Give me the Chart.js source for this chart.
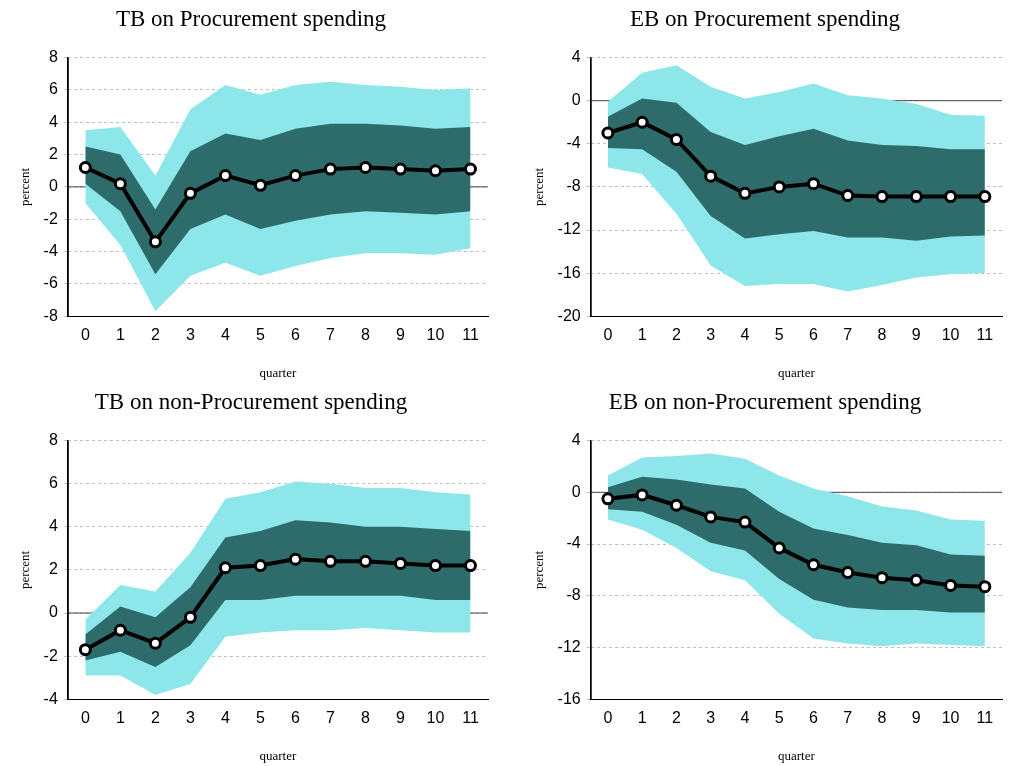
<!DOCTYPE html>
<html>
<head>
<meta charset="utf-8">
<script src="https://cdn.jsdelivr.net/npm/chart.js@4"></script>
<style>
  body { margin: 0; background: #fff; }
  .panel { position: absolute; width: 514px; height: 383px; }
</style>
</head>
<body>
<div class="panel" style="left:0;top:0"><canvas id="c1"></canvas></div>
<div class="panel" style="left:514px;top:0"><canvas id="c2"></canvas></div>
<div class="panel" style="left:0;top:383px"><canvas id="c3"></canvas></div>
<div class="panel" style="left:514px;top:383px"><canvas id="c4"></canvas></div>
<script>
const quarters = ["0","1","2","3","4","5","6","7","8","9","10","11"];

// TB on Procurement spending
const tbProcMedian = [1.2,0.2,-3.4,-0.4,0.7,0.1,0.7,1.1,1.2,1.1,1.0,1.1];
const tbProcInnerHi = [2.5,2.0,-1.4,2.2,3.3,2.9,3.6,3.9,3.9,3.8,3.6,3.7];
const tbProcInnerLo = [0.2,-1.5,-5.4,-2.6,-1.7,-2.6,-2.1,-1.7,-1.5,-1.6,-1.7,-1.5];
const tbProcOuterHi = [3.5,3.7,0.7,4.8,6.3,5.7,6.3,6.5,6.3,6.2,6.0,6.1];
const tbProcOuterLo = [-1.0,-3.6,-7.7,-5.5,-4.7,-5.5,-4.9,-4.4,-4.1,-4.1,-4.2,-3.8];

// EB on Procurement spending
const ebProcMedian = [-3,-2,-3.6,-7,-8.6,-8,-7.7,-8.8,-8.9,-8.9,-8.9,-8.9];
const ebProcInnerHi = [-1.5,0.2,-0.2,-2.9,-4.1,-3.3,-2.6,-3.7,-4.1,-4.2,-4.5,-4.5];
const ebProcInnerLo = [-4.4,-4.5,-6.6,-10.7,-12.8,-12.4,-12.1,-12.7,-12.7,-13,-12.6,-12.5];
const ebProcOuterHi = [-0.1,2.6,3.3,1.3,0.2,0.8,1.6,0.5,0.2,-0.3,-1.3,-1.4];
const ebProcOuterLo = [-6.2,-6.8,-10.5,-15.3,-17.2,-17,-17,-17.7,-17.1,-16.4,-16.1,-16.0];

// TB on non-Procurement spending
const tbNonMedian = [-1.7,-0.8,-1.4,-0.2,2.1,2.2,2.5,2.4,2.4,2.3,2.2,2.2];
const tbNonInnerHi = [-1.0,0.3,-0.2,1.2,3.5,3.8,4.3,4.2,4.0,4.0,3.9,3.8];
const tbNonInnerLo = [-2.2,-1.8,-2.5,-1.5,0.6,0.6,0.8,0.8,0.8,0.8,0.6,0.6];
const tbNonOuterHi = [-0.3,1.3,1.0,2.8,5.3,5.6,6.1,6.0,5.8,5.8,5.6,5.5];
const tbNonOuterLo = [-2.9,-2.9,-3.8,-3.3,-1.1,-0.9,-0.8,-0.8,-0.7,-0.8,-0.9,-0.9];

// EB on non-Procurement spending
const ebNonMedian = [-0.5,-0.2,-1.0,-1.9,-2.3,-4.3,-5.6,-6.2,-6.6,-6.8,-7.2,-7.3];
const ebNonInnerHi = [0.4,1.2,1.0,0.6,0.3,-1.5,-2.8,-3.3,-3.9,-4.1,-4.8,-4.9];
const ebNonInnerLo = [-1.3,-1.5,-2.5,-3.9,-4.5,-6.7,-8.3,-8.9,-9.1,-9.1,-9.3,-9.3];
const ebNonOuterHi = [1.3,2.7,2.8,3.0,2.6,1.3,0.3,-0.3,-1.1,-1.4,-2.1,-2.2];
const ebNonOuterLo = [-2.1,-2.9,-4.3,-6.1,-6.8,-9.4,-11.3,-11.7,-11.9,-11.7,-11.8,-11.9];

const LIGHT = "#8de6ea", DARK = "#2e6b6b";
const serif = "'Liberation Serif', 'DejaVu Serif', serif";
const sans = "'Liberation Sans', Arial, sans-serif";

// solid zero line under the bands, solid left axis line on top
const axisLines = {
  id: "axisLines",
  beforeDatasetsDraw(chart) {
    const { ctx, chartArea, scales } = chart;
    const y = scales.y.getPixelForValue(0);
    ctx.save();
    ctx.strokeStyle = "#444";
    ctx.lineWidth = 1;
    ctx.beginPath();
    ctx.moveTo(chartArea.left, y);
    ctx.lineTo(chartArea.right, y);
    ctx.stroke();
    ctx.restore();
  },
  afterDraw(chart) {
    const { ctx, chartArea } = chart;
    ctx.save();
    ctx.strokeStyle = "#000";
    ctx.lineWidth = 1;
    ctx.beginPath();
    ctx.moveTo(chartArea.left + 0.5, chartArea.top);
    ctx.lineTo(chartArea.left + 0.5, chartArea.bottom);
    ctx.stroke();
    ctx.restore();
  }
};

function makeChart(id, title, med, iHi, iLo, oHi, oLo, yMin, yMax, step) {
  const band = (data, fill, color, order) => ({
    data, fill, backgroundColor: color, borderWidth: 0, pointRadius: 0, order, tension: 0
  });
  new Chart(document.getElementById(id), {
    type: "line",
    plugins: [axisLines],
    data: {
      labels: quarters,
      datasets: [
        band(oHi, "+1", LIGHT, 3),
        band(oLo, false, LIGHT, 3),
        band(iHi, "+1", DARK, 2),
        band(iLo, false, DARK, 2),
        {
          data: med, borderColor: "#000", borderWidth: 4, fill: false,
          pointRadius: 5, pointBackgroundColor: "#fff", pointBorderColor: "#000",
          pointBorderWidth: 3, order: 0, tension: 0
        }
      ]
    },
    options: {
      responsive: true, maintainAspectRatio: false, animation: false,
      layout: { padding: { left: 14, right: 26, top: 0, bottom: 2 } },
      plugins: {
        legend: { display: false }, tooltip: { enabled: false },
        title: { display: true, text: title, color: "#000",
          font: { family: serif, size: 23, weight: "normal" }, padding: { top: 6, bottom: 24 } }
      },
      scales: {
        x: {
          offset: true,
          grid: { display: false, drawTicks: false },
          border: { color: "#000" },
          ticks: { color: "#000", font: { family: sans, size: 16 }, padding: 10 },
          title: { display: true, text: "quarter", color: "#000", font: { family: serif, size: 13 }, padding: { top: 10, bottom: 0 } }
        },
        y: {
          min: yMin, max: yMax,
          ticks: { stepSize: step, color: "#000", font: { family: sans, size: 16 }, padding: 6 },
          border: { color: "#000", dash: [3, 3] },
          grid: { drawTicks: true, tickLength: 4, color: "#c0c0c0" },
          title: { display: true, text: "percent", color: "#000", font: { family: serif, size: 13 } }
        }
      }
    }
  });
}

makeChart("c1", "TB on Procurement spending", tbProcMedian, tbProcInnerHi, tbProcInnerLo, tbProcOuterHi, tbProcOuterLo, -8, 8, 2);
makeChart("c2", "EB on Procurement spending", ebProcMedian, ebProcInnerHi, ebProcInnerLo, ebProcOuterHi, ebProcOuterLo, -20, 4, 4);
makeChart("c3", "TB on non-Procurement spending", tbNonMedian, tbNonInnerHi, tbNonInnerLo, tbNonOuterHi, tbNonOuterLo, -4, 8, 2);
makeChart("c4", "EB on non-Procurement spending", ebNonMedian, ebNonInnerHi, ebNonInnerLo, ebNonOuterHi, ebNonOuterLo, -16, 4, 4);
</script>
</body>
</html>
